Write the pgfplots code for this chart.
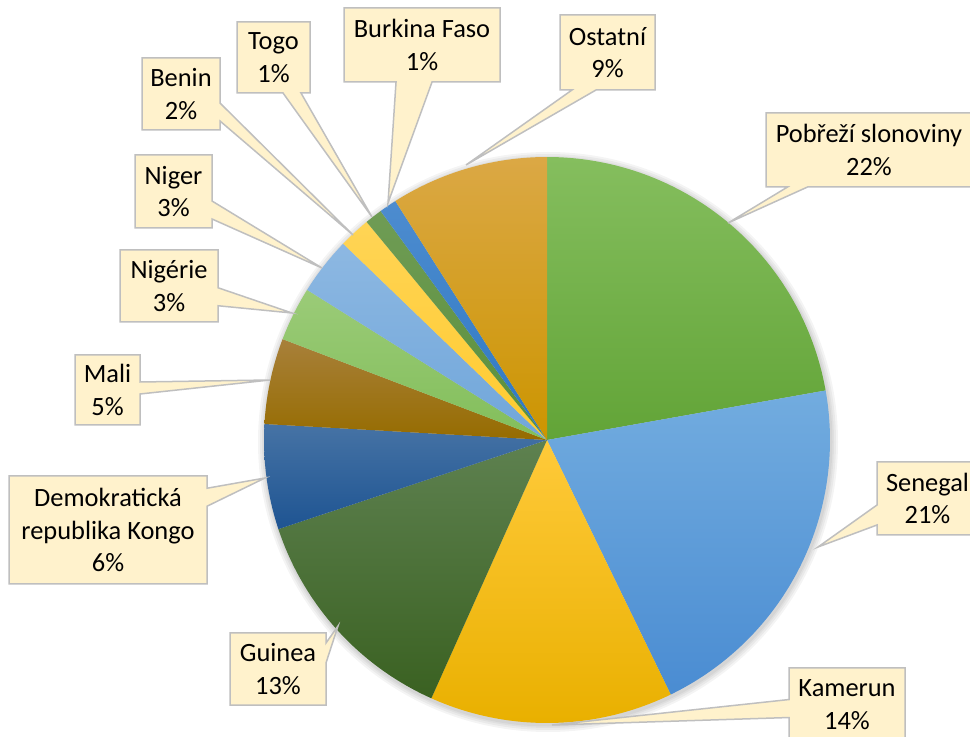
\documentclass[border=0pt]{standalone}
\usepackage{pgfplots}
\pgfplotsset{compat=1.18}
\usepackage{fontspec}
\setmainfont{Carlito}
\usetikzlibrary{shapes.callouts}
\definecolor{c1a}{HTML}{85BE5E}\definecolor{c1b}{HTML}{62A437}
\definecolor{c2a}{HTML}{72ACDF}\definecolor{c2b}{HTML}{4A8CD2}
\definecolor{c3a}{HTML}{FFCA3A}\definecolor{c3b}{HTML}{E9B000}
\definecolor{c4a}{HTML}{5E8150}\definecolor{c4b}{HTML}{3A6121}
\definecolor{c5a}{HTML}{4673A5}\definecolor{c5b}{HTML}{1E5492}
\definecolor{c6a}{HTML}{A8803A}\definecolor{c6b}{HTML}{966C00}
\definecolor{c7a}{HTML}{9BCB78}\definecolor{c7b}{HTML}{82BE5A}
\definecolor{c8a}{HTML}{8DB8E2}\definecolor{c8b}{HTML}{70A6DA}
\definecolor{c9a}{HTML}{FFD455}\definecolor{c9b}{HTML}{FFCB2F}
\definecolor{c10a}{HTML}{6F9C55}\definecolor{c10b}{HTML}{5A8F3A}
\definecolor{c11a}{HTML}{4D8CCF}\definecolor{c11b}{HTML}{2E78C3}
\definecolor{c12a}{HTML}{DBA845}\definecolor{c12b}{HTML}{CC9500}
\definecolor{boxfill}{HTML}{FFF2CC}
\definecolor{boxline}{HTML}{BFBFBF}
\begin{document}
\fontsize{13.2}{16.2}\selectfont
\begin{tikzpicture}
\path[use as bounding box] (0,0) rectangle (485pt,-368.5pt);
\clip (0,0) rectangle (485pt,-368.5pt);
\begin{scope}[x=0.5pt,y=-0.5pt]
  \foreach \r in {290,288,286,284.5}
    \fill[black,opacity=0.045] (548,442) circle[radius=\r];
\end{scope}
\begin{axis}[at={(273.5pt,-220pt)}, anchor=center, scale only axis,
  width=283pt, height=283pt, xmin=-1, xmax=1, ymin=-1, ymax=1,
  hide axis, clip=false]
  \xdef\cum{0}
  % share (%) / top colour / bottom colour, clockwise from 12 o'clock
  \foreach \v/\ca/\cb in {22.2/c1a/c1b, 20.6/c2a/c2b, 13.9/c3a/c3b,
      13.2/c4a/c4b, 6.0/c5a/c5b, 4.9/c6a/c6b, 3.1/c7a/c7b, 3.3/c8a/c8b,
      1.8/c9a/c9b, 1.0/c10a/c10b, 1.0/c11a/c11b, 9.0/c12a/c12b}{
    \pgfmathsetmacro\a{90-3.6*\cum}
    \pgfmathsetmacro\b{90-3.6*(\cum+\v)}
    \edef\doplot{\noexpand\addplot[draw=none, no markers, top color=\ca,
      bottom color=\cb, domain=\b:\a, samples=100]
      ({cos(x)},{sin(x)}) -- (0,0) -- cycle;}
    \doplot
    \pgfmathsetmacro\newcum{\cum+\v}
    \xdef\cum{\newcum}
  }
\end{axis}
\begin{scope}[x=0.5pt,y=-0.5pt,
  lab/.style n args={3}{rectangle callout, fill=boxfill, draw=boxline,
    line width=0.75pt, align=center, inner sep=0pt,
    font=\fontsize{13.2}{16.2}\selectfont,
    minimum width=#1*0.5pt, minimum height=#2*0.5pt,
    callout pointer width=#3}]
  \node[lab={206}{74}{10pt}, callout absolute pointer={(728,223)}] at (869,150) {Pobřeží slonoviny\\22\%};
  \node[lab={101}{73}{10pt}, callout absolute pointer={(818,547)}] at (927.5,498.5) {Senegal\\21\%};
  \node[lab={116}{73}{9pt}, callout absolute pointer={(552,725)}] at (847,704.5) {Kamerun\\14\%};
  \node[lab={96}{72}{10pt}, callout absolute pointer={(338,626)}] at (278,669) {Guinea\\13\%};
  \node[lab={198}{108}{9pt}, callout absolute pointer={(265,478)}] at (108,530) {Demokratická\\republika Kongo\\6\%};
  \node[lab={65}{70}{6pt}, callout absolute pointer={(270,380)}] at (107.5,390) {Mali\\5\%};
  \node[lab={98}{72}{9pt}, callout absolute pointer={(292,313)}] at (169,286) {Nigérie\\3\%};
  \node[lab={77}{73}{9pt}, callout absolute pointer={(322,268)}] at (173.5,191.5) {Niger\\3\%};
  \node[lab={78}{72}{9pt}, callout absolute pointer={(353,235)}] at (181,94) {Benin\\2\%};
  \node[lab={73}{71}{9pt}, callout absolute pointer={(372,217)}] at (273.5,57.5) {Togo\\1\%};
  \node[lab={156}{74}{18pt}, callout absolute pointer={(388,203)}] at (422,45) {Burkina Faso\\1\%};
  \node[lab={95}{75}{12pt}, callout absolute pointer={(466,165)}] at (607.5,52.5) {Ostatní\\9\%};
\end{scope}
\end{tikzpicture}
\end{document}
